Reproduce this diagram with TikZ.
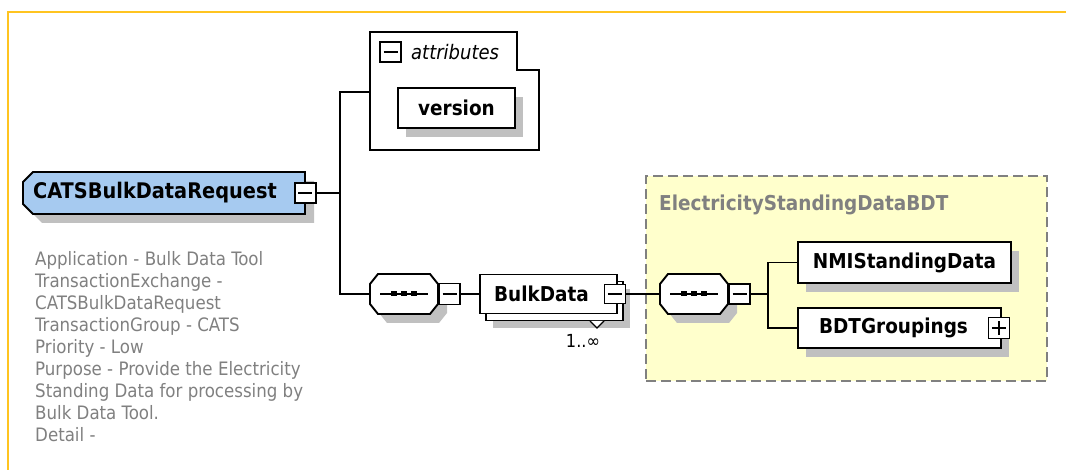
\documentclass[tikz,border=0pt]{standalone}
\usepackage{fontspec}
\setmainfont{DejaVu Sans Condensed}
\usetikzlibrary{shadows}

\definecolor{elemblue}{RGB}{166,202,240}
\definecolor{shadowgray}{RGB}{192,192,192}
\definecolor{typeyellow}{RGB}{255,255,204}
\definecolor{framegold}{RGB}{255,196,32}
\definecolor{textgray}{RGB}{128,128,128}

% left, top, right, bottom, left chamfer, right chamfer, fill
\newcommand{\chamferbox}[7]{%
  \begin{scope}[shift={(9,9)}]
    \fill[shadowgray] (#1+#5,#2) -- (#3-#6,#2) -- (#3,#2+10) -- (#3,#4-10)
      -- (#3-#6,#4) -- (#1+#5,#4) -- (#1,#4-10) -- (#1,#2+10) -- cycle;
  \end{scope}
  \draw[line width=1.9pt, fill=#7] (#1+#5,#2) -- (#3-#6,#2) -- (#3,#2+10) -- (#3,#4-10)
    -- (#3-#6,#4) -- (#1+#5,#4) -- (#1,#4-10) -- (#1,#2+10) -- cycle;
}
% sequence mark: centre x, centre y
\newcommand{\seqmark}[2]{%
  \draw[line width=1.5pt] (#1-24,#2) -- (#1+24,#2);
  \foreach \dx in {-10,0,10}
    \fill (#1+\dx-3,#2-2.5) rectangle (#1+\dx+3,#2+2.5);
}

\begin{document}
\begin{tikzpicture}[
  x=1pt, y=-1pt,
  every node/.style={font=\fontsize{20.5}{24}\selectfont\bfseries, inner sep=0pt},
  conn/.style={line width=1.8pt},
  elem/.style={rectangle, draw, line width=1.9pt, fill=white,
    drop shadow={shadow xshift=8pt, shadow yshift=-9pt, fill=shadowgray, opacity=1}},
  elemmulti/.style={rectangle, draw, line width=1.9pt, fill=white,
    drop shadow={shadow xshift=13pt, shadow yshift=-15pt, fill=shadowgray, opacity=1},
    copy shadow={shadow xshift=6pt, shadow yshift=-7pt, draw, fill=white, line width=1.9pt}},
  seqnode/.style={rectangle, minimum width=68pt, minimum height=40pt},
  toggle/.style={rectangle, draw, line width=1.8pt, fill=white,
    minimum width=21pt, minimum height=20pt,
    path picture={
      \draw[line width=1.6pt] ([xshift=-7pt]path picture bounding box.center)
        -- ([xshift=7pt]path picture bounding box.center);
    }},
  toggleplus/.style={toggle,
    path picture={
      \draw[line width=1.6pt] ([xshift=-7pt]path picture bounding box.center)
        -- ([xshift=7pt]path picture bounding box.center);
      \draw[line width=1.6pt] ([yshift=-7pt]path picture bounding box.center)
        -- ([yshift=7pt]path picture bounding box.center);
    }},
]
  \useasboundingbox (0,0) rectangle (1066,470);

  % frame
  \draw[framegold, line width=2pt] (8,470) -- (8,12) -- (1066,12);

  % root element and its annotation
  \chamferbox{23}{172}{305}{214}{10}{0}{elemblue}
  \node[minimum width=282pt, minimum height=42pt, font=\fontsize{21.5}{24}\selectfont\bfseries]
    (cats) at (164,193) {CATSBulkDataRequest\kern18pt};
  \node[toggle] (tgcats) at (cats.east) {};
  \node[anchor=north west, align=left, text=textgray,
    font=\fontsize{18.5}{22}\selectfont] (desc) at (35,251)
    {Application - Bulk Data Tool\\
     TransactionExchange -\\
     CATSBulkDataRequest\\
     TransactionGroup - CATS\\
     Priority - Low\\
     Purpose - Provide the Electricity\\
     Standing Data for processing by\\
     Bulk Data Tool.\\
     Detail -};

  % attributes
  \draw[line width=1.9pt, fill=white] (370,32) -- (517,32) -- (517,70) -- (539,70)
    -- (539,150) -- (370,150) -- cycle;
  \coordinate (attrin) at (370,92);
  \node[toggle] (tgattr) at (390.5,52) {};
  \node[anchor=west, font=\fontsize{20}{24}\selectfont\itshape] (attrlabel) at (411,52) {attributes};
  \node[elem, minimum width=117pt, minimum height=40pt] (version) at (456.5,108) {version};

  % sequence and BulkData
  \chamferbox{370}{274}{438}{314}{8}{8}{white}
  \node[seqnode] (seqa) at (404,294) {};
  \seqmark{404}{294}
  \node[toggle, anchor=west, minimum height=21pt] (tgseqa) at (seqa.east) {};
  \node[elemmulti, minimum width=137pt, minimum height=39pt] (bulk) at (548.5,294) {BulkData\kern14pt};
  \node[toggle, minimum height=19pt] (tgbulk) at ([xshift=-3pt]bulk.east) {};
  \draw[line width=1.4pt, fill=white] (590,321) -- (597,328) -- (604,321);
  \node[font=\fontsize{18}{20}\selectfont] (mult) at (583,341) {1..∞};

  % complex type
  \node[draw=textgray, dash pattern=on 10pt off 5pt, line width=1.6pt, fill=typeyellow,
    minimum width=401pt, minimum height=205pt] (bdtype) at (846.5,278.5) {};
  \node[anchor=west, text=textgray] (bdtitle) at (659,205) {ElectricityStandingDataBDT};
  \chamferbox{660}{274}{728}{314}{8}{8}{white}
  \node[seqnode] (seqb) at (694,294) {};
  \seqmark{694}{294}
  \node[toggle, anchor=west] (tgseqb) at (seqb.east) {};
  \coordinate (jseq) at (768,294);
  \node[elem, minimum width=213pt, minimum height=41pt] (nmi) at (904.5,262.5) {NMIStandingData};
  \node[elem, minimum width=203pt, minimum height=40pt] (bdt) at (899.5,328) {BDTGroupings\kern12pt};
  \node[toggleplus, minimum height=21pt] (tgbdt) at ([xshift=-3pt]bdt.east) {};

  % connectors
  \coordinate (jroot) at (340,193);
  \draw[conn] (tgcats.east) -- (jroot) |- (attrin);
  \draw[conn] (jroot) |- (seqa.west);
  \draw[conn] (tgseqa.east) -- (bulk.west);
  \draw[conn] (tgbulk.east) -- (seqb.west);
  \draw[conn] (tgseqb.east) -- (jseq) |- (nmi.west);
  \draw[conn] (jseq) |- (bdt.west);
\end{tikzpicture}
\end{document}
